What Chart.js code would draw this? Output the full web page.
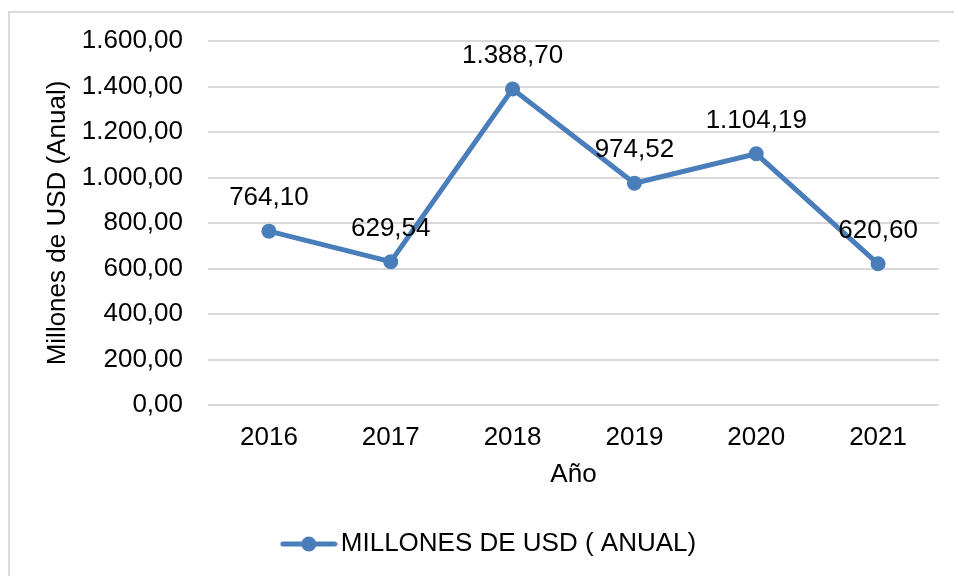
<!DOCTYPE html>
<html>
<head>
<meta charset="utf-8">
<script src="https://cdn.jsdelivr.net/npm/chart.js@4.4.1/dist/chart.umd.min.js"></script>
<style>
  html, body { margin: 0; padding: 0; background: #fff; }
  #wrap { position: relative; width: 954px; height: 576px; }
</style>
</head>
<body>
<div id="wrap"><canvas id="chart" width="954" height="576"></canvas></div>
<script>
// Data
const years = ['2016', '2017', '2018', '2019', '2020', '2021'];
const millones = [764.10, 629.54, 1388.70, 974.52, 1104.19, 620.60];
const seriesName = 'MILLONES DE USD ( ANUAL)';
const yTitle = 'Millones de USD (Anual)';
const xTitle = 'Año';

const blue = '#4a7ebb';
const fontFamily = '"Liberation Sans", Arial, sans-serif';
const fontSize = 26;

// 1.388,70 style number format
function fmt(v) {
  const parts = v.toFixed(2).split('.');
  const intPart = parts[0].replace(/\B(?=(\d{3})+(?!\d))/g, '.');
  return intPart + ',' + parts[1];
}

// legend marker: line with a dot in the middle
function legendMarker() {
  const c = document.createElement('canvas');
  c.width = 58; c.height = 16;
  const g = c.getContext('2d');
  g.strokeStyle = blue;
  g.lineWidth = 5;
  g.lineCap = 'round';
  g.beginPath();
  g.moveTo(3, 8); g.lineTo(55, 8);
  g.stroke();
  g.fillStyle = blue;
  g.beginPath();
  g.arc(29, 8, 7.5, 0, Math.PI * 2);
  g.fill();
  return c;
}

// frame around the whole chart
const framePlugin = {
  id: 'frame',
  beforeDraw(chart) {
    const ctx = chart.ctx;
    ctx.save();
    ctx.strokeStyle = '#d9d9d9';
    ctx.lineWidth = 2;
    ctx.strokeRect(9, 12, 1000, 1000);
    ctx.restore();
  }
};

// value labels above each point
const valueLabels = {
  id: 'valueLabels',
  afterDatasetsDraw(chart) {
    const ctx = chart.ctx;
    const meta = chart.getDatasetMeta(0);
    ctx.save();
    ctx.font = fontSize + 'px ' + fontFamily;
    ctx.fillStyle = '#000';
    ctx.textAlign = 'center';
    ctx.textBaseline = 'middle';
    meta.data.forEach((pt, i) => {
      ctx.fillText(fmt(chart.data.datasets[0].data[i]), pt.x, pt.y - 33);
    });
    ctx.restore();
  }
};

const marker = legendMarker();
const txtFont = { family: fontFamily, size: fontSize };

new Chart(document.getElementById('chart'), {
  type: 'line',
  data: {
    labels: years,
    datasets: [{
      label: seriesName,
      data: millones,
      borderColor: blue,
      backgroundColor: blue,
      borderWidth: 5,
      pointRadius: 7.5,
      pointHoverRadius: 7.5,
      pointBackgroundColor: blue,
      pointBorderColor: blue,
      pointBorderWidth: 0,
      tension: 0
    }]
  },
  options: {
    responsive: false,
    animation: false,
    events: [],
    layout: { padding: { top: 41, right: 15, bottom: 9, left: 47 } },
    plugins: {
      legend: {
        position: 'bottom',
        labels: {
          color: '#000',
          font: txtFont,
          usePointStyle: true,
          pointStyleWidth: 38,
          padding: 10,
          generateLabels() {
            return [{ text: seriesName, pointStyle: marker, fillStyle: blue, strokeStyle: blue, lineWidth: 0, fontColor: '#000' }];
          }
        }
      },
      tooltip: { enabled: false }
    },
    scales: {
      x: {
        offset: true,
        grid: { display: false, drawTicks: false },
        border: { display: false },
        ticks: { color: '#000', font: txtFont, padding: 17 },
        title: { display: true, text: xTitle, color: '#000', font: txtFont, padding: { top: 0, bottom: 31 } },
        afterFit(scale) { scale.height = 116; }
      },
      y: {
        min: 0,
        max: 1600,
        grid: { color: '#d9d9d9', lineWidth: 2, drawTicks: false },
        border: { display: false },
        ticks: {
          stepSize: 200,
          color: '#000',
          font: txtFont,
          padding: 25,
          callback: (v) => fmt(v)
        },
        title: { display: true, text: yTitle, color: '#000', font: txtFont, padding: { top: -5, bottom: 0 } },
        afterFit(scale) { scale.width = 161; }
      }
    }
  },
  plugins: [framePlugin, valueLabels]
});
</script>
</body>
</html>
